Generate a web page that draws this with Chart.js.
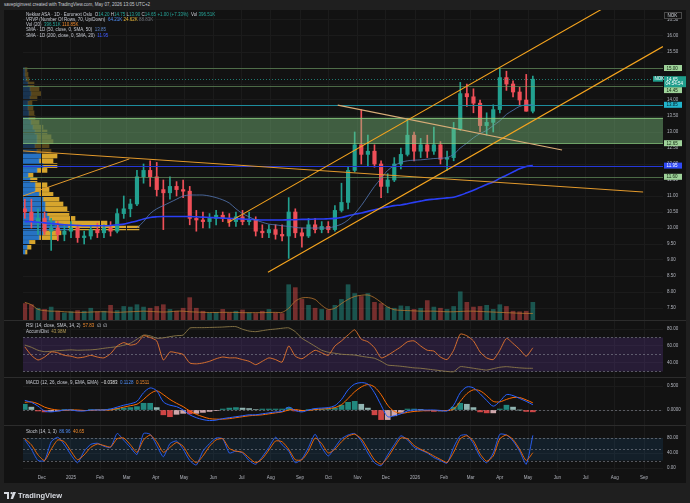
<!DOCTYPE html>
<html>
<head>
<meta charset="utf-8">
<title>Nekkar ASA 1D</title>
<script src="https://cdn.jsdelivr.net/npm/chart.js@4.4.1/dist/chart.umd.min.js"></script>
<style>
  html, body { margin: 0; padding: 0; }
  body { width: 690px; height: 503px; background: #1f1f1f; position: relative; overflow: hidden; font-family: "Liberation Sans", Arial, sans-serif; }
  #panel { position: absolute; left: 4px; top: 10px; width: 682px; height: 473px; background: #121212; }
  canvas { position: absolute; left: 0; }
  .sep { position: absolute; left: 4px; width: 682px; height: 1px; background: #2c2c2c; }
  .lg { position: absolute; left: 26px; font-size: 4.5px; line-height: 5px; color: #c9ccd4; white-space: nowrap; }
  .top { position: absolute; left: 4px; top: 2px; font-size: 4.5px; color: #c9ccd4; white-space: nowrap; }
  .g { color: #26a69a; } .o { color: #f08a2c; } .b { color: #4f8ef7; } .y { color: #e8b73a; }
  .gr { color: #6f727a; } .sb { color: #5d86c9; } .bb { color: #3f5bff; } .k { color: #b39b55; } .w { color: #e0e0e0; }
  #logo { position: absolute; left: 4px; top: 491px; font-size: 7.5px; font-weight: bold; color: #d8dbe2; display: flex; align-items: center; gap: 2px; }
</style>
</head>
<body>
<div id="panel"></div>
<div class="top">savepiginvest created with TradingView.com, May 07, 2026 13:05 UTC+2</div>
<canvas id="vrvp" width="690" height="310" style="top:10px"></canvas>
<canvas id="main" width="690" height="310" style="top:10px"></canvas>
<canvas id="rsi" width="690" height="57" style="top:320px"></canvas>
<canvas id="macd" width="690" height="48" style="top:377px"></canvas>
<canvas id="stoch" width="690" height="58" style="top:425px"></canvas>
<div class="sep" style="top:320px"></div>
<div class="sep" style="top:377px"></div>
<div class="sep" style="top:425px"></div>

<div class="lg" style="top:11.5px">Nekkar ASA · 1D · Euronext Oslo&nbsp; O<span class="g">14.20</span> H<span class="g">14.75</span> L<span class="g">13.90</span> C<span class="g">14.65</span> <span class="g">+1.00 (+7.33%)</span>&nbsp; Vol <span class="g">396.51K</span></div>
<div class="lg" style="top:16.8px">VRVP (Number Of Rows, 70, Up/Down)&nbsp; <span class="b">64.21K</span> <span class="y">24.62K</span> <span class="gr">88.83K</span></div>
<div class="lg" style="top:22.1px">Vol (20)&nbsp; <span class="g">396.51K</span> <span class="o">110.85K</span></div>
<div class="lg" style="top:27.4px">SMA · 1D (50, close, 0, SMA, 50)&nbsp; <span class="sb">13.85</span></div>
<div class="lg" style="top:32.7px">SMA · 1D (200, close, 0, SMA, 20)&nbsp; <span class="bb">11.95</span></div>
<div class="lg" style="top:323.3px">RSI (14, close, SMA, 14, 2)&nbsp; <span class="o">57.83</span>&nbsp; ∅&nbsp; ∅</div>
<div class="lg" style="top:329.3px">Accum/Dist&nbsp; <span class="k">43.98M</span></div>
<div class="lg" style="top:380px">MACD (12, 26, close, 9, EMA, EMA)&nbsp; <span class="w">−0.0383</span>&nbsp; <span class="b">0.1128</span>&nbsp; <span class="o">0.1511</span></div>
<div class="lg" style="top:428.5px">Stoch (14, 1, 3)&nbsp; <span class="b">86.96</span>&nbsp; <span class="o">40.65</span></div>
<div id="logo"><svg width="12" height="7" viewBox="0 0 12 7"><path d="M0 0h5v7H3V2H0z M6 0h1.8a1 1 0 1 1 0 0z M9 0h3L9 7H6.6z" fill="#d8dbe2"/><circle cx="7.6" cy="1.2" r="1.1" fill="#d8dbe2"/></svg><span>TradingView</span></div>

<script>
// weekly bars (week starting dates)
const weeks = ['2024-11-11','2024-11-18','2024-11-25','2024-12-02','2024-12-09','2024-12-16','2024-12-23','2024-12-30',
  '2025-01-06','2025-01-13','2025-01-20','2025-01-27','2025-02-03','2025-02-10','2025-02-17','2025-02-24',
  '2025-03-03','2025-03-10','2025-03-17','2025-03-24','2025-03-31','2025-04-07','2025-04-14','2025-04-21','2025-04-28',
  '2025-05-05','2025-05-12','2025-05-19','2025-05-26','2025-06-02','2025-06-09','2025-06-16','2025-06-23','2025-06-30',
  '2025-07-07','2025-07-14','2025-07-21','2025-07-28','2025-08-04','2025-08-11','2025-08-18','2025-08-25',
  '2025-09-01','2025-09-08','2025-09-15','2025-09-22','2025-09-29','2025-10-06','2025-10-13','2025-10-20','2025-10-27',
  '2025-11-03','2025-11-10','2025-11-17','2025-11-24','2025-12-01','2025-12-08','2025-12-15','2025-12-22','2025-12-29',
  '2026-01-05','2026-01-12','2026-01-19','2026-01-26','2026-02-02','2026-02-09','2026-02-16','2026-02-23',
  '2026-03-02','2026-03-09','2026-03-16','2026-03-23','2026-03-30','2026-04-06','2026-04-13','2026-04-20','2026-04-27','2026-05-04'];

const open = [10.6,10.5,10.2,10.3,9.9,10.0,9.8,9.9,10.0,9.7,9.75,9.95,9.85,10.0,9.9,10.45,10.6,10.75,11.6,11.8,
  11.6,11.2,11.1,11.3,11.2,11.15,10.3,10.25,10.2,10.3,10.4,10.3,10.2,10.35,10.2,10.25,9.9,9.85,9.95,9.8,
  9.75,10.5,9.85,9.75,10.1,9.95,10.05,9.95,10.55,10.8,11.8,12.6,12.3,12.4,12.0,11.3,11.5,12.0,12.3,12.9,
  12.4,12.6,12.4,12.6,12.15,12.2,13.1,14.2,14.1,13.9,13.2,13.3,13.7,14.7,14.5,14.25,14.0,13.65];
const high = [10.9,10.9,10.6,10.5,10.3,10.2,10.1,10.2,10.1,9.9,10.05,10.15,10.1,10.2,10.6,11.0,10.9,11.8,12.0,12.1,
  12.05,11.5,11.6,11.45,11.5,11.3,10.55,10.5,10.45,10.55,10.5,10.45,10.5,10.55,10.5,10.35,10.1,10.1,10.1,10.1,
  10.95,10.6,10.0,10.3,10.3,10.2,10.2,10.7,11.4,11.9,13.0,13.7,12.9,12.6,12.1,11.7,12.2,12.5,13.4,13.0,
  12.8,12.9,13.15,12.7,12.4,13.3,14.55,14.5,14.35,14.0,13.6,13.85,15.0,14.9,14.6,14.4,14.8,14.75];
const low = [10.3,10.0,9.8,9.8,9.3,9.6,9.6,9.7,9.55,9.5,9.65,9.7,9.7,9.75,9.85,10.3,10.35,10.7,11.4,11.3,
  11.0,9.95,10.9,11.0,10.95,10.1,9.9,10.0,10.0,10.1,10.2,10.05,10.05,10.1,10.1,9.75,9.7,9.7,9.65,9.6,
  9.05,9.7,9.4,9.7,9.85,9.85,9.85,9.9,10.5,10.6,11.75,12.0,11.95,11.9,10.95,11.1,11.45,11.85,12.25,12.1,
  12.2,12.2,12.3,12.0,11.8,12.1,13.05,13.8,13.6,13.0,12.9,13.0,13.6,14.3,14.1,13.85,13.65,13.6];
const close = [10.5,10.2,10.3,9.9,10.0,9.8,9.9,10.0,9.7,9.75,9.95,9.85,10.0,9.9,10.45,10.6,10.75,11.6,11.8,11.6,
  11.2,11.1,11.3,11.2,11.15,10.3,10.25,10.2,10.3,10.4,10.3,10.2,10.35,10.2,10.25,9.9,9.85,9.95,9.8,9.75,
  10.5,9.85,9.75,10.1,9.95,10.05,9.95,10.55,10.8,11.8,12.6,12.3,12.4,12.0,11.3,11.5,12.0,12.3,12.9,12.4,
  12.6,12.4,12.6,12.15,12.2,13.1,14.2,14.1,13.9,13.2,13.3,13.7,14.7,14.5,14.25,14.0,13.65,14.65];

// average daily volume per week, K shares
const volume = [280,260,200,180,220,150,120,140,160,150,200,140,150,250,160,230,220,260,220,200,
  230,260,180,150,200,380,200,150,120,130,180,120,150,170,120,110,150,180,120,110,
  600,550,350,250,200,180,170,250,350,600,450,400,450,300,280,220,200,240,230,180,
  200,330,220,200,180,230,480,300,220,230,250,180,260,230,150,140,150,300];
const volumeMA = [300,260,180,160,150,150,140,135,130,130,135,140,140,135,130,135,140,145,150,145,
  140,135,140,150,150,140,135,130,128,128,130,130,128,125,125,125,125,128,130,130,
  200,320,375,380,350,250,180,200,280,350,400,420,425,380,300,220,175,165,160,155,
  150,150,150,145,140,140,145,150,150,145,140,135,130,125,120,115,112,111];

const sma50 = [null,null,null,null,null,null,null,null,null,null,null,null,null,null,null,null,null,
  10.0,10.2,10.45,10.6,10.7,10.8,10.9,11.0,11.03,11.03,11.03,11.0,10.95,10.88,10.78,10.6,10.45,10.35,10.25,
  10.18,10.12,10.1,10.07,10.05,10.02,10.0,10.0,10.0,10.0,10.0,10.05,10.12,10.25,10.45,10.7,11.0,11.3,11.55,11.8,
  11.95,12.05,12.1,12.12,12.13,12.15,12.17,12.18,12.2,12.3,12.5,12.65,12.82,12.95,13.05,13.2,13.35,13.55,13.68,13.8,13.85,13.85];
const sma200 = [10.2,10.2,10.18,10.16,10.14,10.12,10.1,10.09,10.08,10.07,10.07,10.07,10.07,10.08,10.1,10.12,10.17,10.22,10.28,10.33,
  10.35,10.36,10.36,10.36,10.36,10.36,10.35,10.34,10.33,10.32,10.31,10.3,10.29,10.28,10.27,10.26,10.25,10.25,10.25,10.25,
  10.26,10.26,10.27,10.27,10.28,10.28,10.29,10.3,10.33,10.38,10.43,10.47,10.52,10.57,10.62,10.66,10.7,10.72,10.76,10.8,
  10.84,10.88,10.9,10.92,10.94,10.96,11.02,11.1,11.18,11.27,11.36,11.44,11.55,11.65,11.75,11.85,11.92,11.95];

const rsi = [59,49,43.5,47,53,52,49,48,46,47,49,47,46,51,60,64,61,63,72,70,
  66,43.5,53,52,50,40,39,40,42,45,47,46,46,44,42,38,42,46,44,41,
  60,48,45,50,55,52,49,60,66,73,79,68,65,58,46,49,54,59,65,66,
  60,55,54,47,44,55,74,72,66,53,46,44,55,69,63,56,48,57.83];
const accDist = [55.6,54.5,53.0,52.3,52.5,52.8,53.0,53.2,53.0,53.1,53.2,53.5,54.0,54.4,54.8,55.5,56.5,58.5,60.6,60.2,
  59.0,59.2,59.8,60.3,60.6,64.1,64.3,64.3,64.4,64.5,64.6,64.8,64.8,63.5,62.6,62.3,62.8,63.3,63.6,64.0,
  64.2,62.3,59.0,57.0,55.0,53.0,52.0,51.5,51.0,50.8,50.6,50.0,49.5,49.0,47.5,45.6,45.3,45.0,44.6,44.2,
  44.0,43.6,43.2,42.8,42.4,42.3,44.8,44.5,44.0,43.5,43.1,43.8,44.5,44.8,44.5,44.2,44.0,43.98];

const macd = [0.20,0.16,0.08,-0.02,-0.04,-0.02,0.0,0.0,-0.02,-0.02,0.0,0.0,0.0,0.02,0.06,0.10,0.13,0.18,0.36,0.46,
  0.40,0.17,0.10,0.07,0.0,-0.10,-0.16,-0.20,-0.22,-0.21,-0.18,-0.16,-0.14,-0.12,-0.10,-0.10,-0.08,-0.06,-0.04,-0.03,
  0.06,-0.01,-0.04,0.0,0.03,0.04,0.05,0.09,0.22,0.42,0.54,0.57,0.54,0.36,0.10,-0.14,-0.12,-0.08,-0.02,0.0,
  0.0,0.0,0.0,-0.01,-0.02,0.10,0.36,0.48,0.46,0.34,0.20,0.08,0.18,0.32,0.30,0.24,0.18,0.11];
const macdSignal = [0.16,0.17,0.13,0.06,0.02,0.0,-0.01,0.0,0.0,-0.01,-0.01,0.0,0.0,0.0,0.03,0.06,0.09,0.12,0.22,0.34,
  0.40,0.32,0.22,0.14,0.07,-0.02,-0.09,-0.14,-0.18,-0.19,-0.19,-0.18,-0.16,-0.14,-0.12,-0.11,-0.10,-0.08,-0.06,-0.04,
  0.0,0.01,-0.01,-0.01,0.01,0.02,0.03,0.05,0.11,0.24,0.38,0.48,0.53,0.48,0.32,0.10,-0.03,-0.07,-0.05,-0.03,
  -0.02,-0.01,-0.01,-0.01,-0.01,0.02,0.18,0.34,0.42,0.40,0.30,0.18,0.17,0.22,0.26,0.26,0.21,0.15];
const macdHist = [0.12,0.06,-0.02,-0.04,-0.03,-0.02,0.01,0.01,-0.01,-0.01,0.01,0.01,0.01,0.02,0.03,0.04,0.05,0.07,0.14,0.14,
  0.05,-0.1,-0.14,-0.09,-0.07,-0.08,-0.07,-0.05,-0.03,-0.01,0.02,0.04,0.05,0.04,0.03,0.01,0.02,0.02,0.02,0.02,
  0.05,-0.02,-0.02,0.01,0.02,0.02,0.02,0.04,0.1,0.16,0.18,0.12,0.04,-0.1,-0.2,-0.2,-0.12,-0.05,0.02,0.02,
  0.01,-0.02,-0.03,-0.02,-0.01,0.06,0.14,0.12,0.05,-0.04,-0.06,-0.06,0.02,0.1,0.06,0.0,-0.03,-0.0383];

const stochK = [75,50,20,20,70,82,62,35,14,45,63,66,58,55,92,74,55,36,92,90,
  60,30,65,72,50,20,8,45,65,80,78,40,45,40,20,10,30,55,82,62,
  45,14,24,55,90,55,32,55,78,88,92,72,40,14,6,35,62,86,75,55,
  48,40,28,20,13,55,86,88,65,30,14,40,90,88,72,45,10,86.96];
const stochD = [78,62,35,20,50,75,70,45,22,35,55,64,60,56,78,80,62,42,75,88,
  70,42,55,68,58,30,14,32,58,75,78,52,45,42,27,14,25,48,72,70,
  50,22,22,45,80,65,40,50,70,85,90,78,50,22,10,28,55,80,78,60,
  50,42,32,23,15,42,78,86,72,38,18,32,78,88,76,50,20,40.65];

// visible range volume profile rows
const vrvpPrice = [9.25,9.40,9.55,9.70,9.85,10.00,10.15,10.30,10.45,10.60,10.75,10.90,11.05,11.20,11.35,11.50,11.65,11.80,11.95,12.10,
  12.25,12.40,12.55,12.70,12.85,13.00,13.15,13.30,13.45,13.60,13.75,13.90,14.05,14.20,14.35,14.50,14.65,14.80,14.95];
const vrvpUp = [2,4,6,16,20,45,32,26,24,22,22,20,16,12,12,7,5,14,20,16,18,14,12,14,14,12,10,8,6,6,5,5,7,8,7,5,3,2,2];
const vrvpDown = [2,4,6,19,18,71,52,26,22,22,18,16,14,14,12,7,5,10,14,14,16,14,14,16,14,12,10,8,6,5,5,4,7,10,9,6,3,3,2];
const valueAreaTop = 12.25;

// drawings
const greenLevels = [15.00, 14.45, 11.60];
const zone = [12.65, 13.45];
const channelLines = [['2025-06-16', 10.16, '2026-09-21', 17.93], ['2025-07-29', 8.62, '2026-09-21', 15.67]];
const orangeLines = [['2024-11-11', 12.41, '2026-08-31', 11.125], ['2024-11-11', 11.0, '2025-03-04', 12.16]];
const tanLine = ['2025-10-11', 13.84, '2026-06-06', 12.44];

const monthTicks = ['2024-12-01','2025-01-01','2025-02-01','2025-03-01','2025-04-01','2025-05-01','2025-06-01','2025-07-01',
  '2025-08-01','2025-09-01','2025-10-01','2025-11-01','2025-12-01','2026-01-01','2026-02-01','2026-03-01','2026-04-01',
  '2026-05-01','2026-06-01','2026-07-01','2026-08-01','2026-09-01'];
const monthLabels = ['Dec','2025','Feb','Mar','Apr','May','Jun','Jul','Aug','Sep','Oct','Nov','Dec','2026','Feb','Mar','Apr','May','Jun','Jul','Aug','Sep'];
const priceTicks = [7.5,8,8.5,9,9.5,10,10.5,11,11.5,12,12.5,13,13.5,14,14.5,15,15.5,16,16.5];

const X_MIN = -50.9, X_MAX = 628.1;
const PRICE_MIN = 7.125, PRICE_MAX = 16.8125;

const day = s => (Date.UTC(+s.slice(0, 4), +s.slice(5, 7) - 1, +s.slice(8, 10)) - Date.UTC(2025, 0, 1)) / 864e5;
const xs = weeks.map(w => day(w) + 2);
const pts = arr => arr.map((v, i) => ({ x: xs[i], y: v }));

const UP = '#22a08f', DOWN = '#ef4f58';
const candleCol = close.map((c, i) => c >= open[i] ? UP : DOWN);
const volCol = close.map((c, i) => c >= open[i] ? 'rgba(38,166,154,0.45)' : 'rgba(239,83,80,0.45)');
const histCol = macdHist.map((v, i) => {
  const p = i ? macdHist[i - 1] : 0;
  if (v >= 0) return v >= p ? 'rgba(38,166,154,0.8)' : 'rgba(178,223,219,0.8)';
  return v < p ? 'rgba(255,82,82,0.8)' : 'rgba(255,205,210,0.8)';
});

Chart.defaults.font.family = '"Liberation Sans", Arial, sans-serif';
Chart.defaults.font.size = 4.5;
Chart.defaults.color = '#b2b5be';
Chart.defaults.animation = false;
Chart.defaults.responsive = false;
Chart.defaults.plugins.legend.display = false;
Chart.defaults.plugins.tooltip.enabled = false;
Chart.defaults.elements.point.radius = 0;

function xScale(showLabels) {
  return {
    type: 'linear', min: X_MIN, max: X_MAX, offset: false,
    afterBuildTicks: s => { s.ticks = monthTicks.map(d => ({ value: day(d) })); },
    afterFit: s => { s.height = showLabels ? 12 : 0; s.paddingLeft = 0; s.paddingRight = 0; },
    ticks: { display: showLabels, autoSkip: false, maxRotation: 0, padding: 4, color: '#b2b5be',
      callback: (v, i) => monthLabels[i] },
    grid: { color: '#1b1b1b', drawTicks: false, offset: false },
    border: { display: false }
  };
}
function yRight(min, max, tickVals, fmt) {
  return {
    type: 'linear', position: 'right', min, max,
    afterBuildTicks: s => { s.ticks = tickVals.map(v => ({ value: v })); },
    afterFit: s => { s.width = 27; s.paddingTop = 0; s.paddingBottom = 0; },
    ticks: { padding: 4, color: '#b2b5be', callback: fmt },
    grid: { color: '#1b1b1b', drawTicks: false },
    border: { display: false }
  };
}

// drawings, price lines
const overlayPlugin = {
  id: 'overlay',
  afterDatasetsDraw(chart) {
    const { ctx, chartArea: a, scales: { x, y } } = chart;
    const X = d => x.getPixelForValue(day(d));
    const Y = v => y.getPixelForValue(v);
    ctx.save();
    ctx.beginPath(); ctx.rect(a.left, a.top, a.right - a.left, a.bottom - a.top); ctx.clip();
    ctx.fillStyle = 'rgba(129,199,132,0.42)';
    ctx.fillRect(a.left, Y(zone[1]), a.right - a.left, Y(zone[0]) - Y(zone[1]));
    const hline = (v, color, w, dash) => {
      ctx.beginPath(); ctx.setLineDash(dash || []); ctx.strokeStyle = color; ctx.lineWidth = w;
      const py = Math.round(Y(v)) + 0.5;
      ctx.moveTo(a.left, py); ctx.lineTo(a.right, py); ctx.stroke();
    };
    hline(zone[0], 'rgba(140,205,130,0.75)', 1);
    hline(zone[1], 'rgba(140,205,130,0.75)', 1);
    greenLevels.forEach(v => hline(v, 'rgba(115,165,105,0.6)', 1));
    hline(sma50[sma50.length - 1], '#1d8d9e', 1);
    hline(sma200[sma200.length - 1], '#2538d8', 1);
    hline(close[close.length - 1], 'rgba(38,166,154,0.7)', 1, [1, 2]);
    const seg = (l, color, w) => {
      ctx.setLineDash([]); ctx.beginPath(); ctx.strokeStyle = color; ctx.lineWidth = w;
      ctx.moveTo(X(l[0]), Y(l[1])); ctx.lineTo(X(l[2]), Y(l[3])); ctx.stroke();
    };
    orangeLines.forEach(l => seg(l, '#e39a2c', 1));
    seg(tanLine, '#d9ad78', 1.1);
    channelLines.forEach(l => seg(l, '#f7a51e', 1.1));
    ctx.restore();
  }
};

// coloured labels on the price scale
const tagPlugin = {
  id: 'tags',
  afterDraw(chart) {
    const { ctx, chartArea: a, scales: { y } } = chart;
    ctx.save();
    ctx.font = '4.5px "Liberation Sans", Arial, sans-serif';
    ctx.textBaseline = 'middle';
    const tag = (v, bg, fg, dy) => {
      const py = y.getPixelForValue(v) + (dy || 0);
      ctx.fillStyle = bg; ctx.fillRect(a.right + 1, py - 3, 18, 6);
      ctx.fillStyle = fg; ctx.fillText(v.toFixed(2), a.right + 3.5, py + 0.3);
    };
    tag(greenLevels[0], '#9fd39a', '#10240f');
    tag(greenLevels[1], '#9fd39a', '#10240f', 4.5);
    tag(sma50[sma50.length - 1], '#22b4cc', '#062028');
    tag(zone[0], '#9fd39a', '#10240f');
    tag(sma200[sma200.length - 1], '#2f49f5', '#ffffff');
    tag(greenLevels[2], '#9fd39a', '#10240f');
    // last price with countdown
    const last = close[close.length - 1];
    const py = y.getPixelForValue(last);
    ctx.fillStyle = '#1f9e8c';
    ctx.fillRect(a.right + 1, py - 3, 22, 11);
    ctx.fillRect(a.right - 10, py - 3, 10, 5.5);
    ctx.fillStyle = '#ffffff';
    ctx.fillText(last.toFixed(2), a.right + 3.5, py + 0.2);
    ctx.fillText('04:54:54', a.right + 2.5, py + 5);
    ctx.fillText('NOK', a.right - 8.5, py - 0.2);
    // currency box
    ctx.strokeStyle = '#4a4a4a'; ctx.lineWidth = 1;
    ctx.fillStyle = '#121212'; ctx.fillRect(a.right + 1.5, a.top + 2.5, 17, 6);
    ctx.strokeRect(a.right + 1.5, a.top + 2.5, 17, 6);
    ctx.fillStyle = '#d8dbe2'; ctx.fillText('NOK', a.right + 4.5, a.top + 5.7);
    ctx.restore();
  }
};

// oscillator bands and dashed levels
const bandPlugin = {
  id: 'band',
  beforeDatasetsDraw(chart, args, opts) {
    const { ctx, chartArea: a, scales: { y } } = chart;
    ctx.save();
    if (opts.fill) {
      const t = y.getPixelForValue(opts.fill[1]), b = y.getPixelForValue(opts.fill[0]);
      ctx.fillStyle = opts.fill[2];
      ctx.fillRect(a.left, t, a.right - a.left, b - t);
    }
    ctx.setLineDash([2, 2]);
    ctx.strokeStyle = 'rgba(140,143,155,0.55)';
    ctx.lineWidth = 1;
    (opts.dashed || []).forEach(v => {
      const py = Math.round(y.getPixelForValue(v)) + 0.5;
      ctx.beginPath(); ctx.moveTo(a.left, py); ctx.lineTo(a.right, py); ctx.stroke();
    });
    ctx.restore();
  }
};

// volume profile (drawn underneath the price chart)
new Chart(document.getElementById('vrvp'), {
  type: 'bar',
  data: {
    datasets: [
      { data: vrvpPrice.map((p, i) => ({ y: p, x: vrvpUp[i] })),
        backgroundColor: vrvpPrice.map(p => p <= valueAreaTop ? 'rgba(41,125,215,0.9)' : 'rgba(41,125,215,0.32)') },
      { data: vrvpPrice.map((p, i) => ({ y: p, x: vrvpDown[i] })),
        backgroundColor: vrvpPrice.map(p => p <= valueAreaTop ? 'rgba(232,178,48,0.92)' : 'rgba(232,178,48,0.32)') }
    ]
  },
  options: {
    indexAxis: 'y', devicePixelRatio: 1,
    layout: { padding: { left: 23, right: 27, top: 0, bottom: 0 } },
    datasets: { bar: { barThickness: 4, grouped: false } },
    scales: {
      x: { type: 'linear', stacked: true, min: 0, max: 640, display: false },
      y: { type: 'linear', stacked: true, min: PRICE_MIN, max: PRICE_MAX, offset: false, display: false }
    }
  }
});

new Chart(document.getElementById('main'), {
  type: 'bar',
  data: {
    datasets: [
      { type: 'line', data: pts(sma50), borderColor: '#5679b8', borderWidth: 0.8, tension: 0.3, order: 1 },
      { type: 'line', data: pts(sma200), borderColor: '#2a3ff5', borderWidth: 1.6, tension: 0.3, order: 2 },
      { data: xs.map((x, i) => ({ x, y: [open[i], close[i]] })), backgroundColor: candleCol,
        barThickness: 3.5, minBarLength: 1, grouped: false, order: 3 },
      { data: xs.map((x, i) => ({ x, y: [low[i], high[i]] })), backgroundColor: candleCol,
        barThickness: 1, grouped: false, order: 4 },
      { type: 'line', data: pts(volumeMA), yAxisID: 'vol', borderColor: '#b8762e', borderWidth: 0.8, tension: 0.3, order: 5 },
      { data: pts(volume), yAxisID: 'vol', backgroundColor: volCol, barThickness: 4, grouped: false, order: 6 }
    ]
  },
  options: {
    devicePixelRatio: 1,
    layout: { padding: { left: 23, right: 0, top: 0, bottom: 0 } },
    scales: {
      x: xScale(false),
      y: yRight(PRICE_MIN, PRICE_MAX, priceTicks, v => v.toFixed(2)),
      vol: { type: 'linear', axis: 'y', display: false, min: 0, max: 5270 }
    }
  },
  plugins: [overlayPlugin, tagPlugin]
});

new Chart(document.getElementById('rsi'), {
  type: 'line',
  data: {
    datasets: [
      { data: pts(rsi), borderColor: '#e8772e', borderWidth: 0.9, tension: 0.2, order: 1 },
      { data: pts(accDist), yAxisID: 'ad', borderColor: '#8f7c4a', borderWidth: 0.9, tension: 0.2, order: 2 }
    ]
  },
  options: {
    devicePixelRatio: 1,
    layout: { padding: { left: 23, right: 0, top: 0, bottom: 0 } },
    scales: {
      x: xScale(false),
      y: yRight(23.5, 90.6, [40, 60, 80], v => v.toFixed(2)),
      ad: { type: 'linear', axis: 'y', display: false, min: 39.63, max: 68.13 }
    },
    plugins: { band: { fill: [30, 70, 'rgba(126,70,200,0.2)'], dashed: [30, 50, 70] } }
  },
  plugins: [bandPlugin]
});

new Chart(document.getElementById('macd'), {
  type: 'bar',
  data: {
    datasets: [
      { type: 'line', data: pts(macd), borderColor: '#2962ff', borderWidth: 1, tension: 0.3, order: 1 },
      { type: 'line', data: pts(macdSignal), borderColor: '#ff6d00', borderWidth: 1, tension: 0.3, order: 2 },
      { data: pts(macdHist), backgroundColor: histCol, barThickness: 5, grouped: false, order: 3 }
    ]
  },
  options: {
    devicePixelRatio: 1,
    layout: { padding: { left: 23, right: 0, top: 0, bottom: 0 } },
    scales: {
      x: xScale(false),
      y: yRight(-0.3125, 0.6875, [0, 0.5], v => v === 0 ? '0.0000' : v.toFixed(3))
    },
    plugins: { band: { dashed: [0] } }
  },
  plugins: [bandPlugin]
});

new Chart(document.getElementById('stoch'), {
  type: 'line',
  data: {
    datasets: [
      { data: pts(stochK), borderColor: '#2962ff', borderWidth: 0.9, tension: 0.2, order: 2 },
      { data: pts(stochD), borderColor: '#ff6d00', borderWidth: 0.9, tension: 0.2, order: 1 }
    ]
  },
  options: {
    devicePixelRatio: 1,
    layout: { padding: { left: 23, right: 0, top: 0, bottom: 0 } },
    scales: {
      x: xScale(true),
      y: yRight(-8, 114.7, [0, 40, 80], v => v.toFixed(2))
    },
    plugins: { band: { fill: [20, 80, 'rgba(33,150,243,0.1)'], dashed: [20, 50, 80] } }
  },
  plugins: [bandPlugin]
});
</script>
</body>
</html>
